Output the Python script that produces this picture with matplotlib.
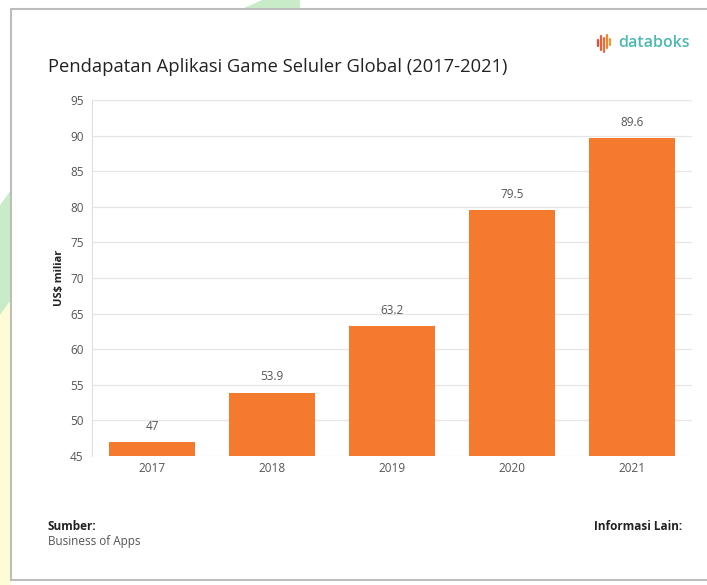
import matplotlib
matplotlib.use('Agg')
import matplotlib.pyplot as plt
from matplotlib.patches import Rectangle, Polygon

years = ['2017', '2018', '2019', '2020', '2021']
revenue = [47, 53.9, 63.2, 79.5, 89.6]
value_labels = ['47', '53.9', '63.2', '79.5', '89.6']
yticks = [45, 50, 55, 60, 65, 70, 75, 80, 85, 90, 95]

W, H = 707, 585
fig = plt.figure(figsize=(W / 100, H / 100), dpi=100)
plt.rcParams['font.family'] = ['Open Sans', 'DejaVu Sans']

# background axes in pixel units (top-left origin)
bg = fig.add_axes([0, 0, 1, 1])
bg.set_xlim(0, W)
bg.set_ylim(H, 0)
bg.axis('off')
bg.set_zorder(0)
bg.add_patch(Polygon([(0, 205), (11, 190), (11, 300), (0, 315)],
                     facecolor='#c8ecc8', edgecolor='none', zorder=0))
bg.add_patch(Polygon([(0, 315), (11, 300), (11, 585), (0, 585)],
                     facecolor='#fdfcd6', edgecolor='none', zorder=0))
bg.add_patch(Polygon([(242, 9), (262, 0), (300, 0), (300, 9)],
                     facecolor='#c8ecc8', edgecolor='none', zorder=0))
bg.add_patch(Rectangle((11, 9), 700, 571, facecolor='white',
                       edgecolor='#bdbdbd', linewidth=1.5, zorder=1))

# databoks logo icon
icon_x = [598, 601, 604, 607, 610]
icon_top = [40, 36, 38, 35, 39]
icon_bot = [46, 50, 52, 48, 45]
icon_col = ['#e8483c', '#ec5b3a', '#f06e36', '#f38434', '#f59a32']
for ix, it, ib, c in zip(icon_x, icon_top, icon_bot, icon_col):
    bg.plot([ix, ix], [it, ib], color=c, linewidth=1.6,
            solid_capstyle='round', zorder=2)

ax = fig.add_axes([92 / W, 1 - 456 / H, 600 / W, 356 / H])
ax.set_zorder(2)
ax.patch.set_alpha(0)

xpos = range(len(years))
bars = ax.bar(xpos, revenue, width=0.72, color='#f47a2e', zorder=3)
for b, lab in zip(bars, value_labels):
    ax.text(b.get_x() + b.get_width() / 2, b.get_height() + 1.3, lab,
            ha='center', va='bottom', fontsize=8.5, color='#555555')

ax.set_ylim(45, 95)
ax.set_xlim(-0.5, len(years) - 0.5)
ax.set_yticks(yticks)
ax.set_xticks(list(xpos))
ax.set_xticklabels(years)
ax.yaxis.grid(True, color='#e6e6e6', linewidth=0.9, zorder=0)
ax.set_axisbelow(True)
for s in ['top', 'right', 'bottom']:
    ax.spines[s].set_visible(False)
ax.spines['left'].set_color('#e0e0e0')
ax.tick_params(axis='both', length=0, labelsize=8.5, labelcolor='#555555')
ax.tick_params(axis='y', pad=6)
ax.tick_params(axis='x', pad=4)
ax.set_ylabel('US$ miliar', fontsize=8, fontweight='bold', color='#222222', labelpad=4)

# title and logo text
fig.text(48 / W, 1 - 67 / H, 'Pendapatan Aplikasi Game Seluler Global (2017-2021)',
         fontsize=13.2, color='#222222', va='center', ha='left')
fig.text(690 / W, 1 - 43 / H, 'databoks', fontsize=11.5, color='#4db8b2',
         va='center', ha='right', fontweight='semibold')

# footer
fig.text(48 / W, 1 - 526 / H, 'Sumber:', fontsize=8.5, fontweight='bold',
         color='#222222', va='center', ha='left')
fig.text(48 / W, 1 - 542 / H, 'Business of Apps', fontsize=8.5,
         color='#555555', va='center', ha='left')
fig.text(682 / W, 1 - 526 / H, 'Informasi Lain:', fontsize=8.5, fontweight='bold',
         color='#222222', va='center', ha='right')

fig.savefig('out.png', dpi=100)
